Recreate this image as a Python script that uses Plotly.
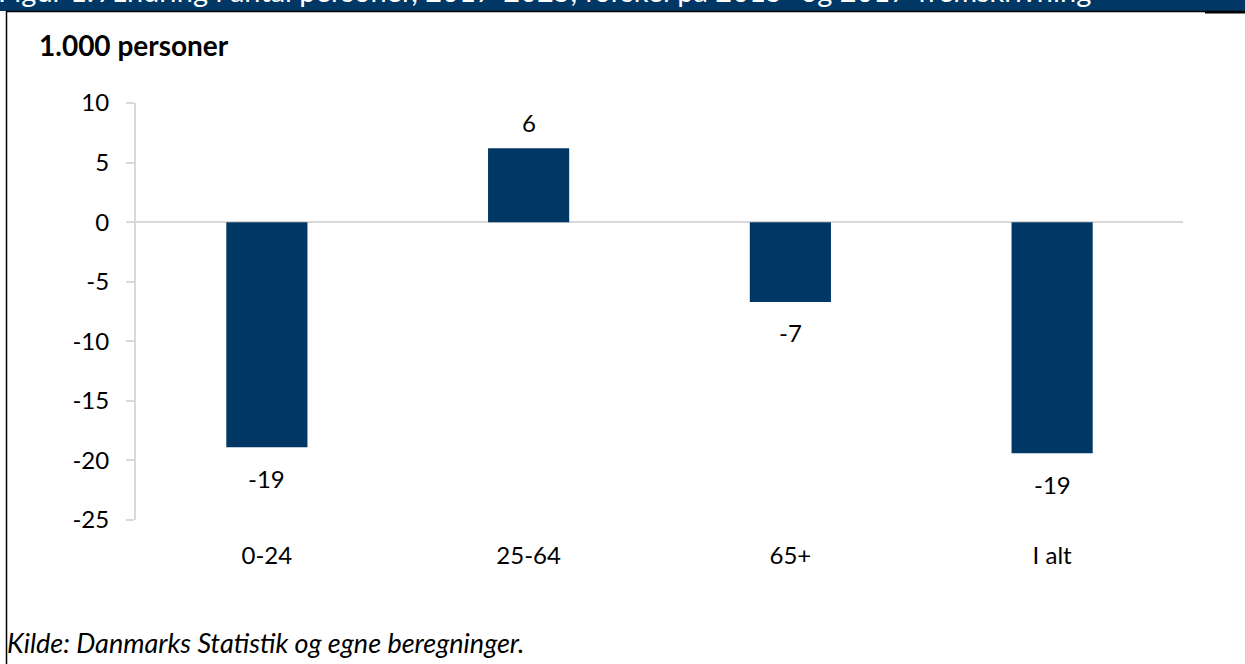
import plotly.graph_objects as go

categories = ["0-24", "25-64", "65+", "I alt"]
values = [-18.9, 6.2, -6.7, -19.4]
label_texts = ["-19", "6", "-7", "-19"]
y_ticks = [10, 5, 0, -5, -10, -15, -20, -25]

title_text = "Figur 1: Ændring i antal personer, 2017-2025, forskel på 2015- og 2017-fremskrivning"
unit_text = "<b>1.000 personer</b>"
source_text = "<i>Kilde: Danmarks Statistik og egne beregninger.</i>"

W, H = 1245, 664
L, R, T, B = 136, 62, 103, 144
PW = W - L - R
PH = H - T - B

def px_x(px):
    return (px - L) / PW

def px_y(py):
    return (H - B - py) / PH

NAVY = "#003764"
GREY = "#d9d9d9"
FONT = "Lato, 'Open Sans', sans-serif"
FS = 24

fig = go.Figure()
fig.add_trace(go.Bar(x=categories, y=values, marker=dict(color=NAVY, line=dict(width=0)),
                     hoverinfo="skip"))

annotations = []
for c, v, t in zip(categories, values, label_texts):
    annotations.append(dict(x=c, y=v, xref="x", yref="y", text=t, showarrow=False,
                            yanchor="middle", yshift=(26 if v > 0 else -31),
                            font=dict(size=FS, color="#000000", family=FONT)))

annotations.append(dict(x=px_x(37), y=px_y(45), xref="paper", yref="paper", text=unit_text,
                        showarrow=False, xanchor="left", yanchor="middle",
                        font=dict(size=28, color="#000000", family=FONT)))
annotations.append(dict(x=px_x(5), y=px_y(642), xref="paper", yref="paper", text=source_text,
                        showarrow=False, xanchor="left", yanchor="middle",
                        font=dict(size=27, color="#000000", family=FONT)))
annotations.append(dict(x=px_x(-4), y=px_y(10), xref="paper", yref="paper", text=title_text,
                        showarrow=False, xanchor="left", yanchor="bottom",
                        font=dict(size=29, color="#ffffff", family=FONT)))

shapes = [
    dict(type="rect", xref="paper", yref="paper", x0=px_x(-10), x1=px_x(W + 10),
         y0=px_y(11), y1=px_y(-40), fillcolor=NAVY, line=dict(width=0), layer="below"),
    dict(type="line", xref="paper", yref="paper", x0=px_x(6), x1=px_x(W + 10),
         y0=px_y(11.5), y1=px_y(11.5), line=dict(color="#000000", width=1.5)),
    dict(type="line", xref="paper", yref="paper", x0=px_x(1205), x1=px_x(W + 10),
         y0=px_y(12.5), y1=px_y(12.5), line=dict(color="#000000", width=2)),
    dict(type="line", xref="paper", yref="paper", x0=px_x(6.5), x1=px_x(6.5),
         y0=px_y(11), y1=px_y(H + 10), line=dict(color="#000000", width=1.5)),
]

fig.update_layout(
    width=W, height=H,
    margin=dict(l=L, r=R, t=T, b=B, pad=0),
    paper_bgcolor="#ffffff", plot_bgcolor="#ffffff",
    bargap=0.69,
    showlegend=False,
    font=dict(family=FONT, size=FS, color="#000000"),
    annotations=annotations,
    shapes=shapes,
)
fig.update_xaxes(showgrid=False, zeroline=False, showline=False, ticks="",
                 tickfont=dict(size=FS, color="#000000", family=FONT),
                 ticklabelstandoff=19)
fig.update_yaxes(range=[-25, 10], tickvals=y_ticks, ticktext=[str(v) for v in y_ticks],
                 showgrid=False, zeroline=True, zerolinecolor=GREY, zerolinewidth=2,
                 showline=True, linecolor=GREY, linewidth=2,
                 ticks="outside", ticklen=8, tickcolor=GREY, tickwidth=2,
                 tickfont=dict(size=FS, color="#000000", family=FONT),
                 ticklabelstandoff=12)

fig.write_html("out.html", config={"displayModeBar": False},
               post_script="document.body.style.margin='0';document.body.style.overflow='hidden';")
